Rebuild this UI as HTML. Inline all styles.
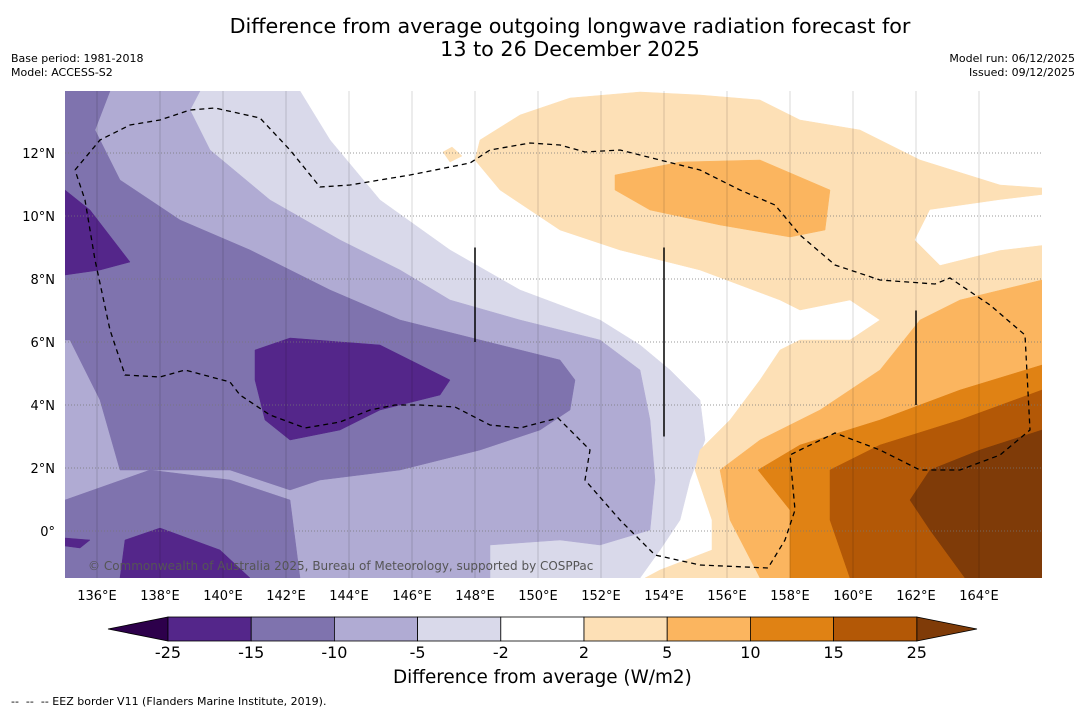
<!DOCTYPE html>
<html><head><meta charset="utf-8">
<style>
body{margin:0;background:#fff;font-family:"DejaVu Sans","Liberation Sans",sans-serif;}
#wrap{position:relative;width:1085px;height:713px;overflow:hidden;background:#fff;}
.t{position:absolute;color:#000;white-space:nowrap;}
</style></head><body>
<div id="wrap">
<div class="t" style="left:0;width:1140px;top:15px;text-align:center;font-size:20.7px;line-height:23px;">Difference from average outgoing longwave radiation forecast for<br>13 to 26 December 2025</div>
<div class="t" style="left:11px;top:52px;font-size:11px;line-height:14px;">Base period: 1981-2018<br>Model: ACCESS-S2</div>
<div class="t" style="right:10px;top:52px;font-size:11px;line-height:14px;text-align:right;">Model run: 06/12/2025<br>Issued: 09/12/2025</div>
<svg id="svg" width="1085" height="713" style="position:absolute;left:0;top:0;font-family:'DejaVu Sans',sans-serif"></svg>
<div class="t" style="left:393px;top:667px;font-size:18.4px;">Difference from average (W/m2)</div>
<div class="t" style="left:11px;top:695px;font-size:11px;">--&nbsp; --&nbsp; -- EEZ border V11 (Flanders Marine Institute, 2019).</div>
</div>
<script>
const NS="http://www.w3.org/2000/svg";
const svg=document.getElementById('svg');
const lonTicks=[136,138,140,142,144,146,148,150,152,154,156,158,160,162,164];
const latTicks=[12,10,8,6,4,2,0];
const cbLevels=[-25,-15,-10,-5,-2,2,5,10,15,25];
const cbColors=["#54268a","#7f73ae","#b0abd3","#d9d9ea","#ffffff","#fde0b6","#fbb55f","#e08214","#b35806"];
const X0=65,X1=1042,Y0=91,Y1=578;
function xs(lon){return 97+(lon-136)*31.5;}
function ys(lat){return 531-lat*31.5;}
const fills=[
 ["contour-pale-purple","#d9d9ea","65,91 300,91 330,140 380,200 450,250 520,290 600,320 640,345 670,370 700,400 705,440 690,480 680,520 660,550 640,578 65,578"],
 ["contour-white-wedge","#ffffff","65,430 82,450 65,470"],
 ["contour-light-purple","#b0abd3","65,91 200,91 190,110 210,150 270,200 340,240 400,270 450,300 520,320 600,340 640,370 650,420 655,480 650,530 600,545 560,540 490,545 490,578 65,578"],
 ["contour-mid-purple","#7f73ae","65,91 110,91 95,130 120,180 180,220 250,250 330,290 400,320 480,340 560,360 575,380 570,410 540,430 480,450 400,470 320,480 290,490 230,470 120,470 100,400 70,340 65,340"],
 ["contour-mid-purple-2","#7f73ae","65,500 150,470 230,480 290,500 300,578 65,578"],
 ["contour-dark-purple","#54268a","255,350 290,338 380,345 450,380 440,395 380,410 340,430 290,440 265,420 255,380"],
 ["contour-dark-purple-2","#54268a","65,190 90,210 130,262 100,270 65,275"],
 ["contour-dark-purple-3","#54268a","125,540 160,528 220,550 250,578 120,578"],
 ["contour-dark-purple-4","#54268a","65,538 90,540 80,548 65,546"],
 ["contour-pale-orange","#fde0b6","475,160 480,140 520,115 570,98 640,92 700,95 760,100 800,120 860,130 920,160 1000,185 1042,188 1042,578 645,578 660,570 712,550 712,520 695,470 700,450 730,420 760,380 780,350 800,340 850,340 880,320 850,300 800,310 780,300 700,270 620,250 560,230 500,190"],
 ["contour-pale-orange-tab","#fde0b6","443,152 452,147 462,156 450,162"],
 ["contour-white-right","#ffffff","1042,195 1000,200 930,210 915,240 940,265 1000,250 1042,245"],
 ["contour-orange","#fbb55f","615,175 680,162 760,160 830,190 825,230 790,237 720,225 650,210 615,190"],
 ["contour-orange-2","#fbb55f","1042,280 960,300 920,320 880,370 820,410 760,440 720,470 730,520 760,578 1042,578"],
 ["contour-dark-orange","#e08214","1042,365 960,390 880,420 800,445 758,470 790,510 790,578 1042,578"],
 ["contour-brown","#b35806","1042,390 960,420 880,445 830,470 830,520 850,578 1042,578"],
 ["contour-dark-brown","#7f3b08","1042,430 980,450 930,470 910,500 930,530 965,578 1042,578"]
];
const eez="75,170 100,140 130,125 160,120 190,110 215,108 260,118 290,150 320,187 350,185 410,175 470,163 490,150 530,143 560,145 585,152 620,150 660,160 700,170 740,190 775,205 800,235 835,265 880,280 935,284 950,278 990,305 1025,335 1030,430 1000,455 960,470 920,470 880,450 835,433 800,450 790,455 795,510 785,540 768,568 700,565 655,555 620,520 585,480 590,450 575,435 558,418 520,428 490,425 455,407 420,405 395,405 370,410 340,422 305,428 270,415 240,395 230,382 185,370 160,377 125,375 110,330 95,260 85,200 75,170";
function el(t,a,p){const e=document.createElementNS(NS,t);for(const k in a)e.setAttribute(k,a[k]);(p||svg).appendChild(e);return e;}
const defs=el('defs',{});const cp=el('clipPath',{id:'mc'},defs);el('rect',{x:X0,y:Y0,width:X1-X0,height:Y1-Y0},cp);
const g=el('g',{'clip-path':'url(#mc)'});
for(const f of fills){const p=el('polygon',{points:f[2],fill:f[1],stroke:f[1],'stroke-width':0.5},g);

}
for(const lon of lonTicks){const l=el('line',{x1:xs(lon),x2:xs(lon),y1:Y0,y2:Y1,stroke:'#000','stroke-opacity':0.22,'stroke-width':0.7},g);


const t=el('text',{x:xs(lon),y:600,'font-size':13,'text-anchor':'middle'});t.textContent=lon+'°E';

}
for(const lat of latTicks){const l=el('line',{x1:X0,x2:X1,y1:ys(lat),y2:ys(lat),stroke:'#777','stroke-width':0.7,'stroke-dasharray':'1,2'},g);


const t=el('text',{x:55,y:ys(lat)+5,'font-size':13,'text-anchor':'end'});t.textContent=lat===0?'0°':lat+'°N';

}
const d=el('polyline',{points:eez,fill:'none',stroke:'#000','stroke-width':1.3,'stroke-dasharray':'5,4'},g);


for(const v of [[148,9,6],[154,9,3],[162,7,4]]){const l=el('line',{x1:xs(v[0]),x2:xs(v[0]),y1:ys(v[1]),y2:ys(v[2]),stroke:'#000','stroke-width':1.5},g);

}
const c=el('text',{x:88,y:570,'font-size':12,fill:'#555'});c.textContent='© Commonwealth of Australia 2025, Bureau of Meteorology, supported by COSPPac';


const cbx0=168,cbw=83.2,cby=617,cbh=24;
const lt=el('polygon',{points:`${cbx0},${cby} ${cbx0},${cby+cbh} 108,${cby+cbh/2}`,fill:'#2d004b',stroke:'#000','stroke-width':0.8});


const rx=cbx0+cbw*cbColors.length;
const rt=el('polygon',{points:`${rx},${cby} ${rx},${cby+cbh} 977,${cby+cbh/2}`,fill:'#7f3b08',stroke:'#000','stroke-width':0.8});


cbColors.forEach((col,i)=>{const r=el('rect',{x:cbx0+i*cbw,y:cby,width:cbw,height:cbh,fill:col,stroke:'#000','stroke-width':0.8});

});
cbLevels.forEach((v,i)=>{const t=el('text',{x:cbx0+i*cbw,y:658,'font-size':16,'text-anchor':'middle'});t.textContent=v;

});
</script>
</body></html>
